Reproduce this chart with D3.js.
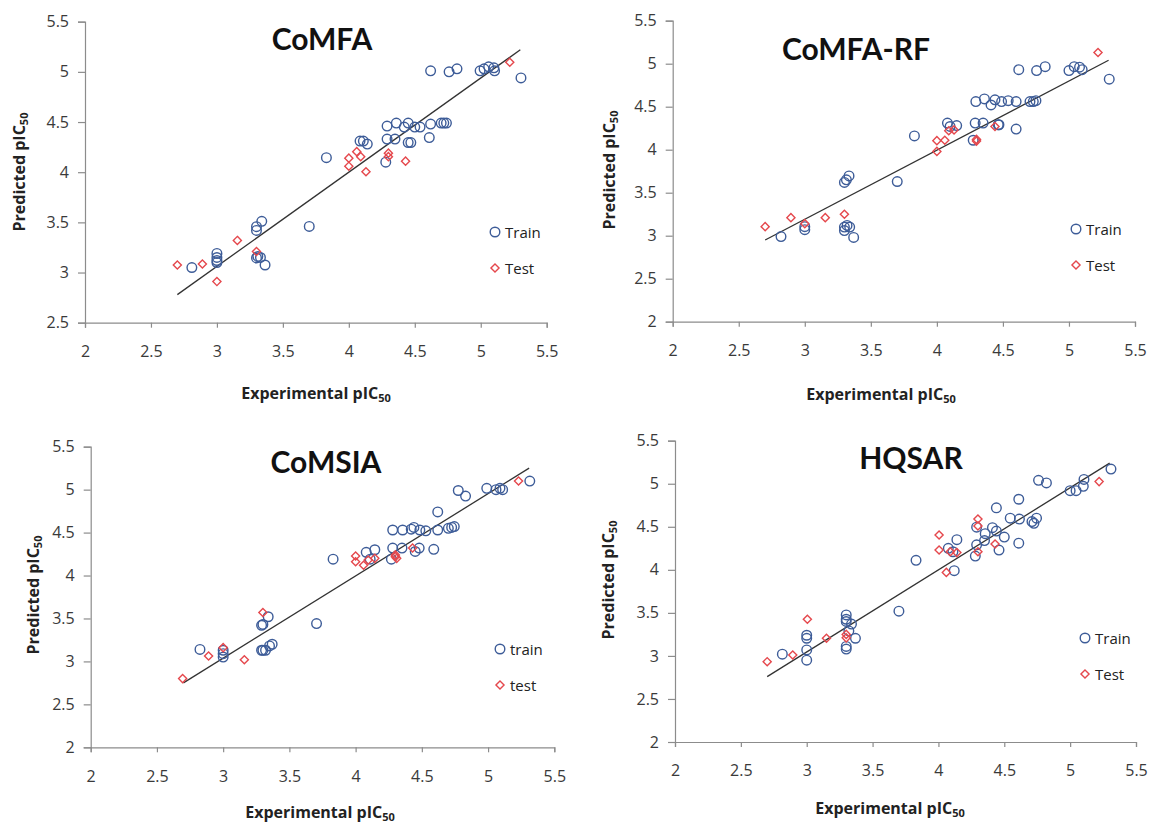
<!DOCTYPE html>
<html>
<head>
<meta charset="utf-8">
<script src="https://cdn.jsdelivr.net/npm/d3@7/dist/d3.min.js"></script>
<style>
  html, body { margin: 0; padding: 0; background: #fff; }
  svg { display: block; }
  .tick text { font-family: "Open Sans", Lato, sans-serif; font-size: 16px; fill: #3a3a3a; }
</style>
</head>
<body>
<svg id="chart" width="1149" height="825"></svg>
<script>
// ---- Data: experimental vs predicted pIC50 for four QSAR models ----
const xTicks = [2, 2.5, 3, 3.5, 4, 4.5, 5, 5.5];
const yTicksComfa = [2.5, 3, 3.5, 4, 4.5, 5, 5.5];
const yTicksFull = [2, 2.5, 3, 3.5, 4, 4.5, 5, 5.5];

// CoMFA
const comfaTrainExp  = [2.81, 3.0, 3.0, 3.0, 3.0, 3.30, 3.30, 3.34, 3.30, 3.31, 3.33, 3.365, 3.70, 3.83,
  4.085, 4.11, 4.14, 4.28, 4.29, 4.29, 4.35, 4.36, 4.42, 4.45, 4.45, 4.47, 4.50, 4.54, 4.61, 4.62,
  4.70, 4.72, 4.74, 4.62, 4.76, 4.82, 4.995, 5.025, 5.06, 5.10, 5.105, 5.305];
const comfaTrainPred = [3.05, 3.19, 3.15, 3.12, 3.10, 3.457, 3.42, 3.51, 3.145, 3.16, 3.15, 3.075, 3.46, 4.145,
  4.31, 4.31, 4.28, 4.10, 4.33, 4.46, 4.33, 4.49, 4.45, 4.49, 4.295, 4.295, 4.45, 4.45, 4.345, 4.48,
  4.49, 4.49, 4.49, 5.01, 5.00, 5.03, 5.01, 5.03, 5.05, 5.04, 5.01, 4.94];
const comfaTestExp  = [2.70, 2.89, 3.00, 3.155, 3.30, 4.00, 4.00, 4.06, 4.09, 4.13, 4.30, 4.30, 4.43, 5.22];
const comfaTestPred = [3.075, 3.085, 2.91, 3.32, 3.21, 4.14, 4.06, 4.205, 4.155, 4.005, 4.19, 4.155, 4.11, 5.096];
const comfaFit = [[2.70, 2.78], [5.30, 5.22]];

// CoMFA-RF
const comfaRfTrainExp  = [2.82, 3.0, 3.0, 3.30, 3.315, 3.335, 3.30, 3.32, 3.34, 3.30, 3.37, 3.70, 3.83,
  4.08, 4.10, 4.15, 4.275, 4.29, 4.295, 4.35, 4.36, 4.41, 4.44, 4.465, 4.47, 4.49, 4.54, 4.60, 4.60,
  4.62, 4.705, 4.73, 4.75, 4.755, 4.82, 5.0, 5.04, 5.08, 5.10, 5.305];
const comfaRfTrainPred = [2.99, 3.105, 3.07, 3.62, 3.65, 3.695, 3.10, 3.12, 3.10, 3.06, 2.98, 3.63, 4.16,
  4.31, 4.27, 4.28, 4.11, 4.31, 4.56, 4.31, 4.59, 4.52, 4.58, 4.29, 4.29, 4.56, 4.57, 4.56, 4.24,
  4.93, 4.56, 4.56, 4.57, 4.92, 4.965, 4.92, 4.965, 4.96, 4.93, 4.82];
const comfaRfTestExp  = [2.70, 2.895, 3.00, 3.155, 3.30, 4.00, 4.00, 4.06, 4.09, 4.13, 4.30, 4.30, 4.44, 5.22];
const comfaRfTestPred = [3.105, 3.21, 3.14, 3.21, 3.25, 4.105, 3.98, 4.11, 4.22, 4.23, 4.10, 4.12, 4.27, 5.13];
const comfaRfFit = [[2.70, 2.95], [5.30, 5.04]];

// CoMSIA
const comsiaTrainExp  = [2.825, 3.0, 3.0, 3.0, 3.29, 3.30, 3.34, 3.29, 3.30, 3.32, 3.35, 3.37, 3.705, 3.83,
  4.08, 4.11, 4.145, 4.27, 4.28, 4.28, 4.35, 4.355, 4.42, 4.44, 4.45, 4.48, 4.485, 4.53, 4.59, 4.62,
  4.62, 4.70, 4.725, 4.745, 4.775, 4.83, 4.99, 5.06, 5.09, 5.11, 5.315];
const comsiaTrainPred = [3.14, 3.13, 3.09, 3.05, 3.42, 3.43, 3.52, 3.13, 3.13, 3.13, 3.18, 3.20, 3.44, 4.19,
  4.27, 4.19, 4.30, 4.19, 4.32, 4.53, 4.32, 4.53, 4.54, 4.56, 4.28, 4.32, 4.53, 4.52, 4.305, 4.74,
  4.53, 4.55, 4.56, 4.57, 4.99, 4.925, 5.015, 5.00, 5.015, 5.00, 5.10];
const comsiaTestExp  = [2.694, 2.89, 3.00, 3.16, 3.30, 4.00, 4.00, 4.06, 4.095, 4.145, 4.30, 4.31, 4.30, 4.43, 5.23];
const comsiaTestPred = [2.80, 3.063, 3.16, 3.02, 3.57, 4.227, 4.16, 4.12, 4.18, 4.20, 4.24, 4.20, 4.22, 4.32, 5.10];
const comsiaFit = [[2.70, 2.75], [5.31, 5.25]];

// HQSAR
const hqsarTrainExp  = [2.815, 3.0, 3.0, 3.0, 3.0, 3.30, 3.30, 3.30, 3.34, 3.30, 3.30, 3.32, 3.37, 3.70, 3.83,
  4.075, 4.11, 4.14, 4.12, 4.28, 4.29, 4.29, 4.35, 4.355, 4.41, 4.44, 4.44, 4.46, 4.50, 4.545, 4.61,
  4.61, 4.615, 4.71, 4.725, 4.745, 4.76, 4.82, 5.0, 5.045, 5.10, 5.105, 5.31];
const hqsarTrainPred = [3.02, 3.24, 3.205, 3.07, 2.95, 3.476, 3.426, 3.40, 3.37, 3.11, 3.08, 3.29, 3.205, 3.52, 4.11,
  4.25, 4.21, 4.35, 3.99, 4.16, 4.29, 4.495, 4.34, 4.42, 4.49, 4.72, 4.45, 4.23, 4.38, 4.60, 4.82,
  4.31, 4.59, 4.56, 4.54, 4.60, 5.04, 5.01, 4.92, 4.92, 4.97, 5.05, 5.17];
const hqsarTestExp  = [2.70, 2.894, 3.005, 3.15, 3.30, 3.30, 4.005, 4.005, 4.06, 4.09, 4.14, 4.30, 4.30, 4.30, 4.43, 5.22];
const hqsarTestPred = [2.933, 3.01, 3.426, 3.205, 3.21, 3.25, 4.405, 4.23, 3.97, 4.21, 4.20, 4.59, 4.51, 4.21, 4.30, 5.025];
const hqsarFit = [[2.70, 2.76], [5.30, 5.24]];

// ---- Panel layout ----
const panels = [
  { title: "CoMFA", trainLabel: "Train", testLabel: "Test",
    trainX: comfaTrainExp, trainY: comfaTrainPred, testX: comfaTestExp, testY: comfaTestPred, fit: comfaFit,
    yDomain: [2.5, 5.5], yTicks: yTicksComfa,
    xRange: [85, 546.7], yRange: [322.7, 21.7],
    titlePos: [322, 50], yTitlePos: [25, 172], xTitlePos: [316, 399], legendPos: [495, 232] },
  { title: "CoMFA-RF", trainLabel: "Train", testLabel: "Test",
    trainX: comfaRfTrainExp, trainY: comfaRfTrainPred, testX: comfaRfTestExp, testY: comfaRfTestPred, fit: comfaRfFit,
    yDomain: [2, 5.5], yTicks: yTicksFull,
    xRange: [672.7, 1135], yRange: [321.7, 20.7],
    titlePos: [856, 60], yTitlePos: [615, 170], xTitlePos: [881, 400], legendPos: [1076, 229] },
  { title: "CoMSIA", trainLabel: "train", testLabel: "test",
    trainX: comsiaTrainExp, trainY: comsiaTrainPred, testX: comsiaTestExp, testY: comsiaTestPred, fit: comsiaFit,
    yDomain: [2, 5.5], yTicks: yTicksFull,
    xRange: [90.7, 554.3], yRange: [747.3, 446.7],
    titlePos: [326, 473], yTitlePos: [39, 595], xTitlePos: [320, 818], legendPos: [500, 649] },
  { title: "HQSAR", trainLabel: "Train", testLabel: "Test",
    trainX: hqsarTrainExp, trainY: hqsarTrainPred, testX: hqsarTestExp, testY: hqsarTestPred, fit: hqsarFit,
    yDomain: [2, 5.5], yTicks: yTicksFull,
    xRange: [675, 1136], yRange: [742, 440.7],
    titlePos: [911, 469], yTitlePos: [614, 580], xTitlePos: [890, 814], legendPos: [1085, 638] }
];

const TITLE_FONT = 'Lato, "Open Sans", sans-serif';
const FONT = '"Open Sans", Lato, sans-serif';
const TRAIN_COLOR = "#3d5c98";
const TEST_COLOR = "#e5484d";
const AXIS_COLOR = "#8c8c8c";

const svg = d3.select("#chart");
const diamond = d3.symbol().type(d3.symbolDiamond2).size(42);

function addPIC50(textSel, prefix) {
  textSel.append("tspan").text(prefix + "pIC");
  textSel.append("tspan").attr("font-size", "11px").attr("dy", "3").text("50");
}

panels.forEach(p => {
  const x = d3.scaleLinear().domain([2, 5.5]).range(p.xRange);
  const y = d3.scaleLinear().domain(p.yDomain).range(p.yRange);
  const g = svg.append("g");

  // axes
  const xAxis = d3.axisBottom(x).tickValues(xTicks).tickSize(5).tickPadding(18).tickFormat(d3.format("~g"));
  const yAxis = d3.axisLeft(y).tickValues(p.yTicks).tickSize(7).tickPadding(9).tickFormat(d3.format("~g"));

  const gx = g.append("g").attr("transform", `translate(0,${p.yRange[0]})`).call(xAxis);
  const gy = g.append("g").attr("transform", `translate(${p.xRange[0]},0)`).call(yAxis);
  [gx, gy].forEach(a => {
    a.select(".domain").attr("stroke", AXIS_COLOR).attr("stroke-width", 1.2);
    a.selectAll(".tick line").attr("stroke", AXIS_COLOR).attr("stroke-width", 1.2);
  });

  // regression line
  g.append("line")
    .attr("x1", x(p.fit[0][0])).attr("y1", y(p.fit[0][1]))
    .attr("x2", x(p.fit[1][0])).attr("y2", y(p.fit[1][1]))
    .attr("stroke", "#333").attr("stroke-width", 1.3);

  // training set
  g.append("g").selectAll("circle")
    .data(p.trainX.map((v, i) => [v, p.trainY[i]]))
    .join("circle")
    .attr("cx", d => x(d[0])).attr("cy", d => y(d[1])).attr("r", 4.8)
    .attr("fill", "none").attr("stroke", TRAIN_COLOR).attr("stroke-width", 1.4);

  // test set
  g.append("g").selectAll("path")
    .data(p.testX.map((v, i) => [v, p.testY[i]]))
    .join("path")
    .attr("d", diamond)
    .attr("transform", d => `translate(${x(d[0])},${y(d[1])})`)
    .attr("fill", "none").attr("stroke", TEST_COLOR).attr("stroke-width", 1.4);

  // title
  g.append("text")
    .attr("x", p.titlePos[0]).attr("y", p.titlePos[1])
    .attr("text-anchor", "middle")
    .attr("font-family", TITLE_FONT).attr("font-weight", "bold").attr("font-size", "30px")
    .attr("fill", "#111").text(p.title);

  // axis titles
  const xt = g.append("text")
    .attr("x", p.xTitlePos[0]).attr("y", p.xTitlePos[1])
    .attr("text-anchor", "middle")
    .attr("font-family", FONT).attr("font-weight", "bold").attr("font-size", "16px").attr("fill", "#222");
  addPIC50(xt, "Experimental ");

  const yt = g.append("text")
    .attr("transform", `translate(${p.yTitlePos[0]},${p.yTitlePos[1]}) rotate(-90)`)
    .attr("text-anchor", "middle")
    .attr("font-family", FONT).attr("font-weight", "bold").attr("font-size", "16px").attr("fill", "#222");
  addPIC50(yt, "Predicted ");

  // legend
  const lg = g.append("g").attr("transform", `translate(${p.legendPos[0]},${p.legendPos[1]})`);
  lg.append("circle").attr("r", 4.8).attr("fill", "none")
    .attr("stroke", TRAIN_COLOR).attr("stroke-width", 1.4);
  lg.append("text").attr("x", 10).attr("y", 5.5)
    .attr("font-family", FONT).attr("font-size", "15px").attr("fill", "#222").text(p.trainLabel);
  lg.append("path").attr("d", diamond).attr("transform", "translate(0,36)")
    .attr("fill", "none").attr("stroke", TEST_COLOR).attr("stroke-width", 1.4);
  lg.append("text").attr("x", 10).attr("y", 41.5)
    .attr("font-family", FONT).attr("font-size", "15px").attr("fill", "#222").text(p.testLabel);
});
</script>
</body>
</html>
